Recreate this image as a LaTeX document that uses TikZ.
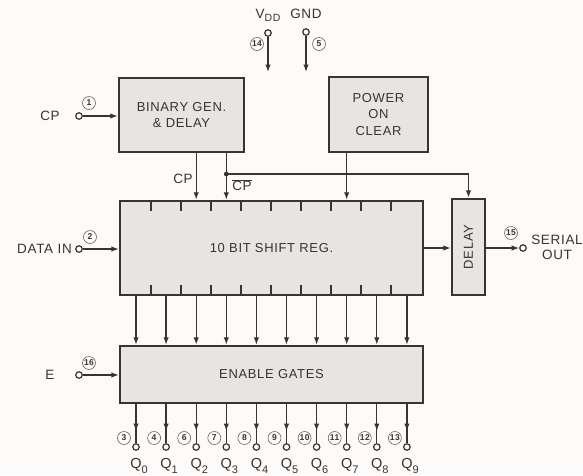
\documentclass[tikz,border=0pt]{standalone}
\usepackage{fontspec}
\setmainfont{Liberation Sans}[LetterSpace=5]
\usetikzlibrary{arrows.meta}
\definecolor{ink}{HTML}{3A3330}
\definecolor{boxfill}{HTML}{E7E5E1}
\definecolor{numc}{HTML}{6A6460}
\definecolor{paper}{HTML}{FCFBF9}
\begin{document}
\begin{tikzpicture}[x=1pt,y=-1pt,
  block/.style={draw=ink, line width=2.5pt, fill=boxfill, inner sep=0pt, text=ink,
    align=center, font=\fontsize{13}{16.5}\selectfont},
  wire/.style={draw=ink, line width=1.3pt},
  arr/.style={wire, -{Latex[length=7.5pt,width=5.5pt]}},
  term/.style={circle, draw=ink, line width=1.2pt, fill=paper, inner sep=0pt, minimum size=6.5pt},
  pinno/.style={circle, draw=numc, line width=0.6pt, inner sep=0pt, minimum size=13pt,
    text=ink, font=\fontsize{8.5}{8.5}\selectfont\bfseries},
  lbl/.style={text=ink, inner sep=0pt, font=\fontsize{13.5}{16}\selectfont},
  qlbl/.style={text=ink, inner sep=0pt, font=\fontsize{14.5}{16}\selectfont},
  tickmark/.style={draw=ink, line width=1.5pt}]
\fill[paper] (0,0) rectangle (583,475);
\useasboundingbox (0,0) rectangle (583,475);

% blocks
\node[block, minimum width=125pt, minimum height=74pt] (bin) at (181.5,115) {BINARY GEN.\\\& DELAY};
\node[block, minimum width=99pt, minimum height=75pt] (poc) at (378.5,114.5) {POWER\\ON\\CLEAR};
\node[block, minimum width=303pt, minimum height=94pt] (sr) at (271.5,248) {10 BIT SHIFT REG.};
\node[block, minimum width=33pt, minimum height=96pt] (dly) at (468.5,247) {\rotatebox{90}{DELAY}};
\node[block, minimum width=303pt, minimum height=57pt] (en) at (271.5,374.5) {ENABLE GATES};

% shift register ticks
\foreach \x in {151,181,211,241,271,301,331,361,391}{
  \draw[tickmark] (\x,201) -- (\x,211);
  \draw[tickmark] (\x,295) -- (\x,285);
}

% VDD and GND
\node[term] (tvdd) at (268,33) {};
\coordinate (vddend) at (268,72);
\draw[arr] (tvdd) -- (vddend);
\node[lbl] (lvdd) at (268,15) {V\raisebox{-0.45ex}{\fontsize{10.5}{10}\selectfont DD}};
\node[pinno] (p14) at (257,44) {14};
\node[term] (tgnd) at (306,32) {};
\coordinate (gndend) at (306,72);
\draw[arr] (tgnd) -- (gndend);
\node[lbl] (lgnd) at (306,14) {GND};
\node[pinno] (p5) at (319,44) {5};

% CP input
\node[term] (tcp) at (79,116) {};
\node[lbl] (lcp) at (50,116) {CP};
\node[pinno] (p1) at (89,103) {1};
\draw[arr] (tcp) -- (tcp -| bin.west);

% DATA IN
\node[term] (tdi) at (79,249) {};
\node[lbl, anchor=east] (ldi) at (72,249) {DATA IN};
\node[pinno] (p2) at (90,237) {2};
\draw[arr] (tdi) -- (tdi -| sr.west);

% E
\node[term] (te) at (79,375) {};
\node[lbl] (le) at (50,375) {E};
\node[pinno] (p16) at (89,363) {16};
\draw[arr] (te) -- (te -| en.west);

% CP / CP-bar from binary generator
\coordinate (xcp) at (196.2,0);
\coordinate (xcb) at (226.3,0);
\coordinate (xpoc) at (346.7,0);
\draw[arr] (bin.south -| xcp) -- (sr.north -| xcp);
\draw[arr] (bin.south -| xcb) -- (sr.north -| xcb);
\coordinate (jn) at (226.3,174);
\fill[ink] (jn) circle (2.4pt);
\draw[arr] (jn) -| (dly.north);
\node[lbl] (lcp2) at (183,179) {CP};
\node[lbl] (lcpb) at (242,185) {$\overline{\hbox{CP}}$};

% power on clear to shift register
\draw[arr] (poc.south -| xpoc) -- (sr.north -| xpoc);

% shift reg -> delay -> serial out
\draw[arr] (sr.east) -- (dly.west |- sr.east);
\node[term] (tso) at (523,248) {};
\draw[arr] (dly.east |- tso) -- (tso);
\node[pinno] (p15) at (511,233) {15};
\node[lbl] (lso) at (557,249) {\begin{tabular}{@{}c@{}}SERIAL\\[-1pt]OUT\end{tabular}};

% parallel outputs
\foreach \i/\n in {0/3,1/4,2/6,3/7,4/8,5/9,6/10,7/11,8/12,9/13}{
  \pgfmathsetmacro\x{136+30.1*\i}
  \coordinate (c\i) at (\x,0);
  \draw[arr] (sr.south -| c\i) -- (en.north -| c\i);
  \node[term] (q\i) at (\x,447) {};
  \coordinate (a\i) at (\x,431);
  \coordinate (b\i) at (\x,426);
  \draw[arr] (en.south -| c\i) -- (a\i);
  \draw[wire] (b\i) -- (q\i);
  \node[pinno] (n\i) at (\x-12,438) {\n};
  \node[qlbl] (lq\i) at (\x,466) {Q\rlap{\raisebox{-0.55ex}{\fontsize{11}{10}\selectfont\i}}};
}
\end{tikzpicture}
\end{document}
